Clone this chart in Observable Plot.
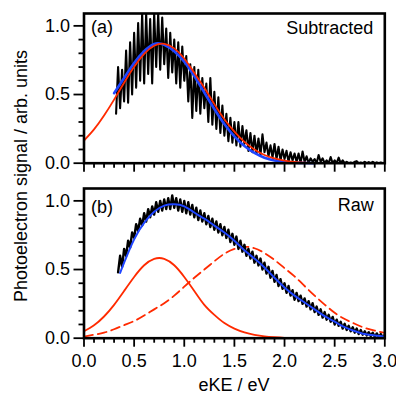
<!DOCTYPE html>
<html><head><meta charset="utf-8">
<script src="https://cdn.jsdelivr.net/npm/d3@7"></script>
<script src="https://cdn.jsdelivr.net/npm/@observablehq/plot@0.6"></script>
<style>
body{margin:0;background:#fff}
#wrap{position:relative;width:396px;height:396px;font-family:"Liberation Sans",Arial,Helvetica,sans-serif}
#wrap svg{display:block}
</style>
</head><body><div id="wrap"></div>
<script>
// ---------- data ----------
const xMajorTicks = [0, 0.5, 1.0, 1.5, 2.0, 2.5, 3.0];
const xMinorTicks = [0.1,0.2,0.3,0.4,0.6,0.7,0.8,0.9,1.1,1.2,1.3,1.4,1.6,1.7,1.8,1.9,2.1,2.2,2.3,2.4,2.6,2.7,2.8,2.9];
const yMajorTicks = [0, 0.5, 1.0];
const yMinorTicks = [0.1,0.2,0.3,0.4,0.6,0.7,0.8,0.9];

const eKE = [0,0.1,0.2,0.3,0.4,0.5,0.6,0.7,0.8,0.9,1.0,1.1,1.2,1.3,1.4,1.5,1.6,1.7,1.8,1.9,2.0,2.1,2.2,2.3,2.4,2.5,2.6,2.7,2.8,2.9,3.0];

// (a) Subtracted
const redA = [0.165,0.246,0.347,0.463,0.586,0.702,0.796,0.855,0.869,0.836,0.762,0.658,0.55,0.43,0.32,0.23,0.155,0.10,0.06,0.035,0.018,0.009,0.004,0.002,0.001,0,0,0,0,0,0];
const blueAeKE = [0.3,0.4,0.5,0.6,0.7,0.8,0.9,1.0,1.1,1.2,1.3,1.4,1.5,1.6,1.7,1.8,1.9,2.0,2.1,2.2,2.3];
const blueA = [0.51,0.62,0.73,0.815,0.868,0.862,0.815,0.74,0.635,0.515,0.395,0.285,0.195,0.125,0.075,0.04,0.02,0.01,0.004,0.001,0.0];
const blackAStart = 0.32, blackStep = 0.02;
const blackA = [0.36,0.70,0.40,0.68,0.45,
 0.82,0.44,0.88,0.50,0.95,
 0.55,1.02,0.60,1.09,0.58,
 1.09,0.65,1.05,0.58,1.09,
 0.70,1.09,0.68,1.06,0.72,
 0.98,0.62,0.95,0.66,0.90,
 0.58,0.88,0.55,0.85,0.60,
 0.78,0.45,0.72,0.33,0.70,
 0.38,0.68,0.36,0.62,0.40,
 0.58,0.30,0.62,0.28,0.52,
 0.25,0.48,0.22,0.42,0.20,
 0.36,0.16,0.33,0.15,0.30,
 0.13,0.30,0.12,0.27,0.14,
 0.24,0.09,0.22,0.08,0.20,
 0.07,0.18,0.06,0.21,0.08,
 0.15,0.05,0.13,0.04,0.14,
 0.03,0.12,0.02,0.10,0.03,
 0.09,0.01,0.08,0.02,0.07,
 0.01,0.07,0.0,0.085,0.01,
 0.05,0.0,0.035,0.01,0.03,
 0.0,0.06,0.01,0.035,0.0,
 0.02,0.0,0.045,0.0,0.02,
 0.0,0.04,0.0,0.02,0.0,
 0.01,0.0,0.005,0.0,0.01,
 0.015,0.0,0.005,0.0,0.01,
 0.0,0.008,0.0,0.01,0.0,
 0.006,0.0,0.005,0.0,0.004];

// (b) Raw
const redBsolid = [0.051,0.094,0.158,0.243,0.344,0.446,0.531,0.578,0.578,0.531,0.446,0.344,0.243,0.17,0.11,0.07,0.042,0.024,0.013,0.007,0.003,0.001,0,0,0,0,0,0,0,0,0];
const redBdashed = [0.012,0.025,0.04,0.065,0.095,0.125,0.165,0.21,0.255,0.31,0.375,0.44,0.50,0.56,0.615,0.65,0.665,0.655,0.62,0.57,0.51,0.45,0.38,0.31,0.245,0.185,0.14,0.105,0.075,0.055,0.038];
const blueBeKE = [0.36,0.4,0.5,0.6,0.7,0.8,0.9,1.0,1.1,1.2,1.3,1.4,1.5,1.6,1.7,1.8,1.9,2.0,2.1,2.2,2.3,2.4,2.5,2.6,2.7,2.8,2.9,3.0];
const blueB = [0.475,0.55,0.72,0.84,0.92,0.965,0.975,0.96,0.915,0.87,0.82,0.77,0.71,0.64,0.58,0.515,0.44,0.37,0.31,0.26,0.21,0.16,0.12,0.08,0.052,0.03,0.02,0.012];
const blackBStart = 0.34;
const blackB = [0.48,0.60,0.52,0.65,0.60,0.71,0.66,0.77,0.73,0.83,
 0.78,0.87,0.82,0.91,0.85,0.94,0.88,0.96,0.90,0.99,
 0.92,1.00,0.93,1.01,0.94,1.02,0.94,1.04,0.95,1.02,
 0.93,1.01,0.92,1.00,0.91,0.99,0.90,0.97,0.88,0.95,
 0.86,0.93,0.85,0.91,0.83,0.89,0.81,0.87,0.79,0.85,
 0.77,0.83,0.75,0.81,0.73,0.79,0.70,0.76,0.68,0.74,
 0.65,0.71,0.63,0.68,0.60,0.65,0.58,0.63,0.55,0.60,
 0.53,0.58,0.50,0.55,0.47,0.52,0.44,0.49,0.41,0.46,
 0.38,0.43,0.36,0.40,0.33,0.38,0.31,0.35,0.28,0.33,
 0.27,0.31,0.25,0.29,0.23,0.27,0.21,0.255,0.19,0.23,
 0.17,0.21,0.15,0.19,0.135,0.17,0.12,0.155,0.10,0.135,
 0.09,0.12,0.07,0.105,0.06,0.09,0.05,0.08,0.04,0.07,
 0.03,0.06,0.025,0.05,0.02,0.044,0.015,0.04,0.01,0.035,
 0.008,0.03,0.006,0.025];

// ---------- helpers ----------
const pts = (xs, ys) => ys.map((y, i) => ({x: xs[i], y}));
const trace = (x0, ys) => ys.map((y, i) => ({x: +(x0 + blackStep * i).toFixed(2), y}));
const FONT = '"Liberation Sans", Arial, Helvetica, sans-serif';
const RED = "#ff2a00", BLUE = "#1f45ff";

function axes(showXText) {
  return [
    Plot.axisY({ticks: yMajorTicks, tickSize: 10, tickPadding: 4, tickFormat: d3.format(".1f"), strokeWidth: 1.8, fontSize: 18, label: null}),
    Plot.axisY({ticks: yMinorTicks, tickSize: 5, tickFormat: () => "", strokeWidth: 1.8, label: null}),
    Plot.axisX({ticks: xMajorTicks, tickSize: 9, tickPadding: 7, tickFormat: showXText ? d3.format(".1f") : () => "", strokeWidth: 1.8, fontSize: 18, label: null}),
    Plot.axisX({ticks: xMinorTicks, tickSize: 5, tickFormat: () => "", strokeWidth: 1.8, label: null}),
    Plot.frame({stroke: "black", strokeWidth: 2.6})
  ];
}

const base = {
  width: 396, marginLeft: 83.5, marginRight: 11.7,
  x: {domain: [0, 3]}, y: {domain: [0, 1.09]},
  style: {fontFamily: FONT, fontSize: "18px", color: "black", background: "white", overflow: "visible"}
};

const chartA = Plot.plot({
  ...base, height: 176, marginTop: 13, marginBottom: 13.3,
  marks: [
    Plot.line(trace(blackAStart, blackA), {x: "x", y: "y", stroke: "black", strokeWidth: 2.1, clip: true}),
    Plot.line(pts(blueAeKE, blueA), {x: "x", y: "y", stroke: BLUE, strokeWidth: 2.6, curve: "natural"}),
    Plot.line(pts(eKE, redA), {x: "x", y: "y", stroke: RED, strokeWidth: 1.8, curve: "natural"}),
    ...axes(false),
    Plot.text(["(a)"], {frameAnchor: "top-left", dx: 7, dy: 6.5, textAnchor: "start", lineAnchor: "top", fontSize: 18}),
    Plot.text(["Subtracted"], {frameAnchor: "top-right", dx: -11.5, dy: 7.5, textAnchor: "end", lineAnchor: "top", fontSize: 18})
  ]
});

const chartB = Plot.plot({
  ...base, height: 220, marginTop: 12, marginBottom: 58.3,
  marks: [
    Plot.line(pts(eKE, redBsolid), {x: "x", y: "y", stroke: RED, strokeWidth: 1.8, curve: "natural"}),
    Plot.line(pts(eKE, redBdashed), {x: "x", y: "y", stroke: RED, strokeWidth: 1.8, strokeDasharray: "9,5", curve: "natural"}),
    Plot.line(trace(blackBStart, blackB), {x: "x", y: "y", stroke: "black", strokeWidth: 2.4, clip: true}),
    Plot.line(pts(blueBeKE, blueB), {x: "x", y: "y", stroke: BLUE, strokeWidth: 2, curve: "natural"}),
    ...axes(true),
    Plot.text(["(b)"], {frameAnchor: "top-left", dx: 7, dy: 11.5, textAnchor: "start", lineAnchor: "top", fontSize: 18}),
    Plot.text(["Raw"], {frameAnchor: "top-right", dx: -11, dy: 9.5, textAnchor: "end", lineAnchor: "top", fontSize: 18})
  ]
});

const wrap = document.getElementById("wrap");
chartA.style.position = "absolute"; chartA.style.left = "0px"; chartA.style.top = "0px";
chartB.style.position = "absolute"; chartB.style.left = "0px"; chartB.style.top = "176px";
wrap.appendChild(chartA);
wrap.appendChild(chartB);

const ns = "http://www.w3.org/2000/svg";
const ov = document.createElementNS(ns, "svg");
ov.setAttribute("width", 396); ov.setAttribute("height", 396);
ov.style.position = "absolute"; ov.style.left = "0px"; ov.style.top = "0px"; ov.style.pointerEvents = "none";
ov.style.fontFamily = FONT;
function addText(str, attrs) {
  const t = document.createElementNS(ns, "text");
  for (const k in attrs) t.setAttribute(k, attrs[k]);
  t.textContent = str; ov.appendChild(t);
}
addText("Photoelectron signal / arb. units", {transform: "translate(27,176) rotate(-90)", "text-anchor": "middle", "font-size": 18, fill: "black"});
addText("eKE / eV", {x: 234, y: 391, "text-anchor": "middle", "font-size": 18, fill: "black"});
wrap.appendChild(ov);
</script>
</body></html>
